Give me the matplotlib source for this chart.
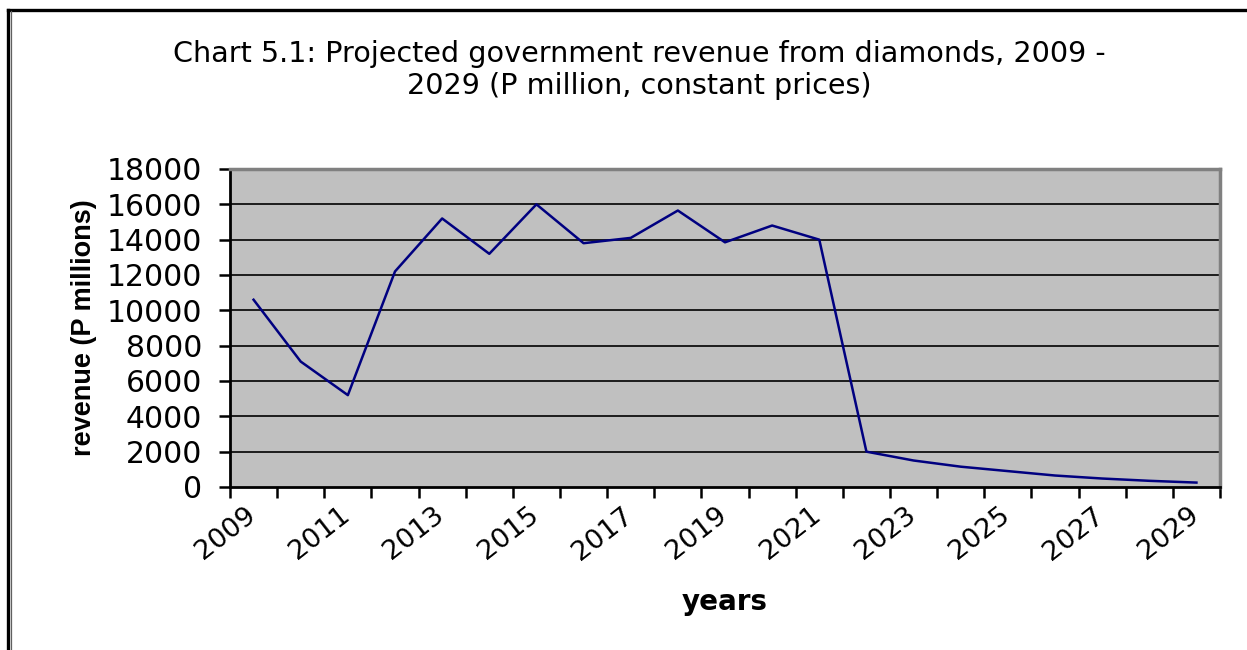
import matplotlib
matplotlib.use('Agg')
import matplotlib.pyplot as plt
from matplotlib.lines import Line2D

# projected revenue, P million at constant prices
years = list(range(2009, 2030))
revenue = [10600, 7100, 5200, 12200, 15200, 13200, 16000, 13800, 14100, 15650,
           13850, 14800, 14000, 2000, 1500, 1150, 900, 650, 480, 350, 250]
y_ticks = list(range(0, 18001, 2000))

W, H = 1247, 650
plt.rcParams['font.family'] = ['DejaVu Sans']

fig = plt.figure(figsize=(W / 100, H / 100), dpi=100)
fig.patch.set_facecolor('white')

# plot area in pixels: left 230, right 1220, top 169, bottom 487
ax = fig.add_axes([230 / W, 1 - 487 / H, 990 / W, 318 / H])
ax.set_facecolor('#c0c0c0')

x = list(range(len(years)))
ax.plot(x, revenue, color='#000080', linewidth=1.8, zorder=3)

ax.set_xlim(-0.5, len(years) - 0.5)
ax.set_ylim(0, 18000)

ax.set_yticks(y_ticks)
ax.set_yticklabels([str(v) for v in y_ticks], fontsize=21.5)
for v in y_ticks[1:-1]:
    ax.axhline(v, color='black', linewidth=1.2, zorder=1)

# category boundaries carry the tick marks, labels sit on every other year
# (nudged a little right so the slanted text ends over its category)
ax.set_xticks([i - 0.5 for i in range(len(years) + 1)])
ax.set_xticklabels([])
ax.set_xticks([i + 0.15 for i in x[::2]], minor=True)
ax.set_xticklabels([str(y) for y in years[::2]], minor=True, fontsize=19.5,
                   rotation=38, ha='right', va='top')
ax.tick_params(axis='x', which='major', direction='out', length=8, width=1.8,
               color='black')
ax.tick_params(axis='x', which='minor', length=0, pad=11)
ax.tick_params(axis='y', direction='out', length=8, width=1.8, pad=12)

for side in ('left', 'bottom'):
    ax.spines[side].set_color('black')
    ax.spines[side].set_linewidth(2)
for side in ('top', 'right'):
    ax.spines[side].set_color('#808080')
    ax.spines[side].set_linewidth(2.5)

ax.set_ylabel('revenue (P millions)', fontsize=19.5, fontweight='bold',
              family='Liberation Sans', va='center')
ax.yaxis.set_label_coords((84 - 230) / 990, 0.5)
ax.set_xlabel('years', fontsize=20, fontweight='bold')
ax.xaxis.set_label_coords(0.5, (487 - 602) / 318)
ax.xaxis.label.set_va('center')

fig.text(639 / W, 1 - 70 / H,
         'Chart 5.1: Projected government revenue from diamonds, 2009 -\n'
         '2029 (P million, constant prices)',
         ha='center', va='center', fontsize=20.6, linespacing=1.15)

# outer frame: heavy line on top and left, thin grey inner line on the left
fig.add_artist(Line2D([8 / W, 1], [1 - 10 / H, 1 - 10 / H], color='black',
                      linewidth=2.4, transform=fig.transFigure))
fig.add_artist(Line2D([8 / W, 8 / W], [0, 1 - 10 / H], color='black',
                      linewidth=2.4, transform=fig.transFigure))
fig.add_artist(Line2D([11 / W, 11 / W], [0, 1 - 11 / H], color='#606060',
                      linewidth=0.9, transform=fig.transFigure))

fig.savefig('out.png', dpi=100)
